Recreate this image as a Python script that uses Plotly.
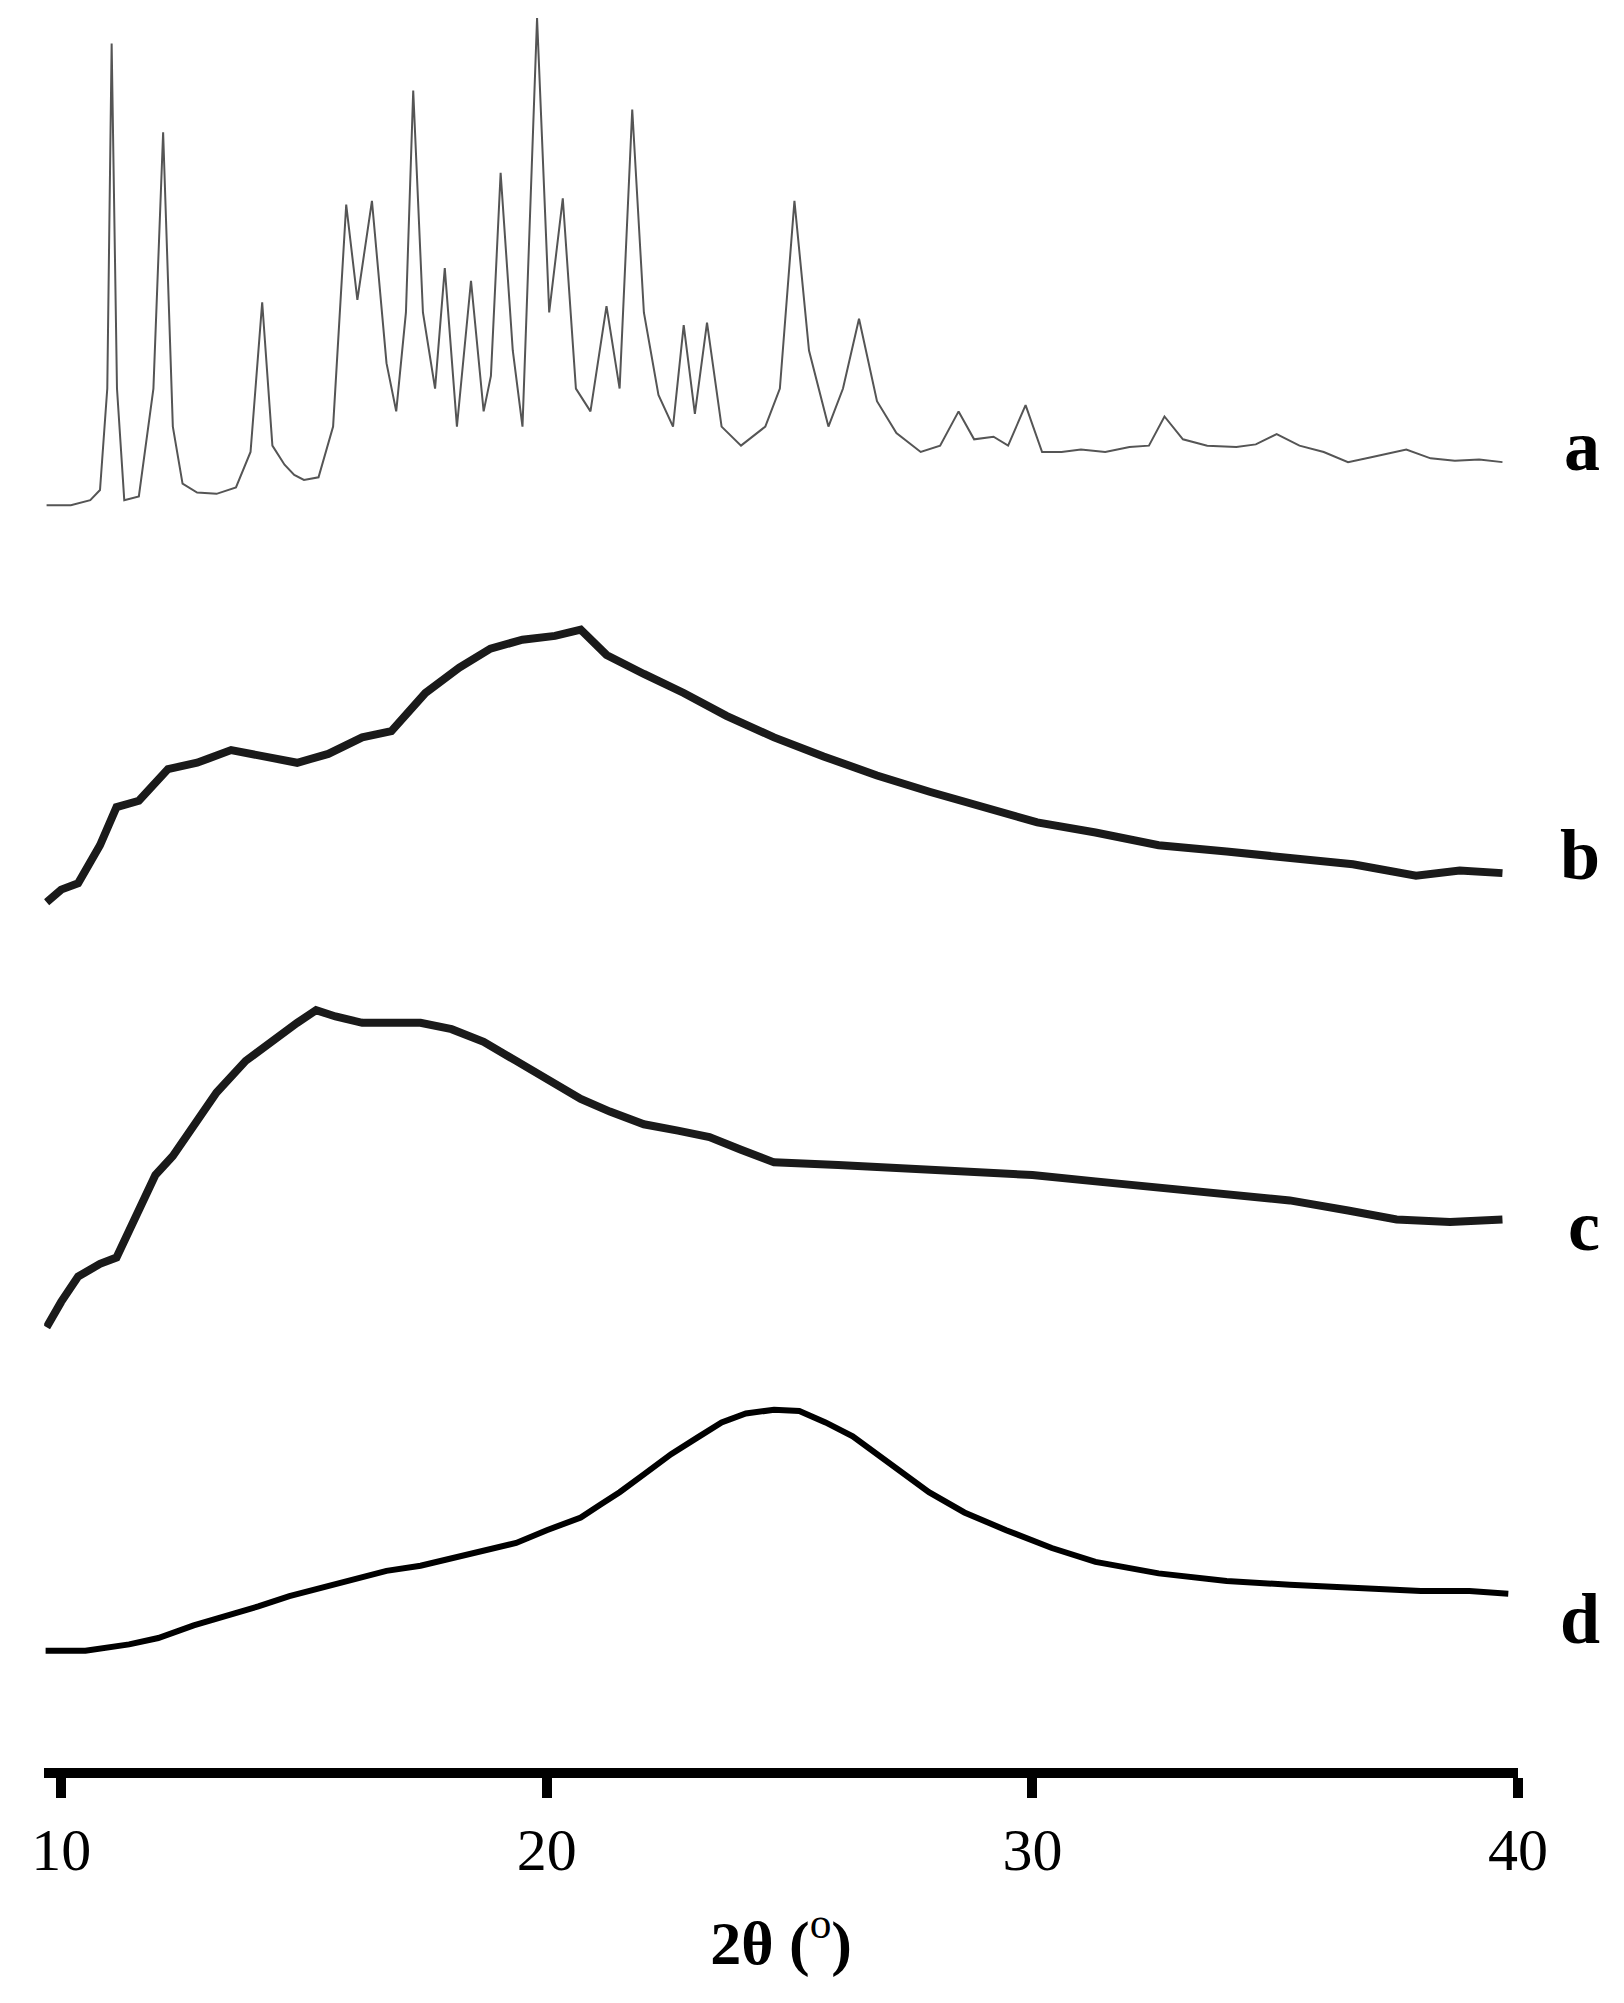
import plotly.graph_objects as go

# pattern a (crystalline)
a_x = [9.7,10.2,10.6,10.8,10.95,11.04,11.15,11.3,11.6,11.9,12.1,12.3,12.5,12.8,13.2,13.6,13.9,14.14,14.35,14.6,14.8,15.0,15.3,15.6,15.87,16.1,16.4,16.7,16.9,17.1,17.25,17.45,17.7,17.9,18.15,18.44,18.7,18.85,19.05,19.3,19.5,19.8,20.05,20.33,20.6,20.9,21.23,21.5,21.76,22.0,22.3,22.6,22.82,23.05,23.3,23.6,24.0,24.5,24.8,25.1,25.4,25.8,26.1,26.43,26.8,27.2,27.7,28.1,28.48,28.8,29.2,29.5,29.86,30.2,30.6,31.0,31.5,32.0,32.4,32.72,33.1,33.6,34.2,34.6,35.03,35.5,36.0,36.5,37.0,37.7,38.2,38.7,39.2,39.68]
a_y = [392,392,388,380,300,28,300,388,385,300,98,330,375,382,383,378,350,232,345,360,368,372,370,330,155,230,152,280,318,240,65,240,300,205,330,215,318,290,130,270,330,8,240,150,300,318,235,300,80,240,305,330,250,320,248,330,345,330,300,152,270,330,300,245,310,335,350,345,318,340,338,345,313,350,350,348,350,346,345,322,340,345,346,344,336,345,350,358,354,348,355,357,356,358]
# pattern b (amorphous)
b_x = [9.7,10.0,10.35,10.8,11.14,11.6,12.2,12.8,13.5,14.2,14.86,15.5,16.2,16.8,17.5,18.2,18.84,19.5,20.17,20.7,21.23,22.0,22.82,23.7,24.68,25.7,26.8,27.9,28.93,30.1,31.3,32.6,34.0,35.3,36.6,37.9,38.8,39.68]
b_y = [705,695,690,660,630,625,600,595,585,590,595,588,575,570,540,520,505,498,495,490,510,525,540,558,575,590,605,618,630,642,650,660,665,670,675,684,680,682]
# pattern c
c_x = [9.7,10.0,10.35,10.8,11.14,11.5,11.94,12.3,12.73,13.2,13.8,14.3,14.86,15.25,15.65,16.2,16.7,17.4,18.04,18.7,19.37,20.0,20.7,21.3,22.0,22.7,23.35,24.0,24.68,26.0,27.33,28.7,30.0,31.3,32.65,34.0,35.3,36.5,37.5,38.6,39.68]
c_y = [1040,1020,1000,990,985,955,920,905,880,855,830,815,800,790,795,800,800,800,805,815,830,845,860,870,880,885,890,900,910,912,915,918,920,925,930,936,940,948,955,957,955]
# pattern d
d_x = [9.68,10.5,11.4,12.0,12.73,13.4,14.06,14.7,15.4,16.0,16.7,17.4,18.04,18.7,19.37,20.0,20.7,21.1,21.5,22.0,22.56,23.1,23.6,24.1,24.68,25.2,25.74,26.3,26.8,27.3,27.87,28.6,29.46,30.4,31.3,32.6,34.0,35.3,36.6,38.0,39.0,39.8]
d_y = [1295,1295,1290,1285,1275,1268,1260,1252,1245,1238,1232,1228,1222,1216,1210,1200,1190,1180,1170,1156,1140,1127,1115,1108,1105,1106,1115,1126,1140,1155,1170,1186,1200,1214,1225,1234,1240,1243,1245,1248,1248,1250]

labels = ["a", "b", "c", "d"]
label_y = [345, 668, 960, 1270]
tick_vals = [10, 20, 30, 40]

W, H = 1280, 1579
px10, px40 = 32.5, 1212.0
px_per_deg = (px40 - px10) / 30.0
x0 = 9.65
dom_left = (px10 - (10 - x0) * px_per_deg) / W

fig = go.Figure()
fig.add_trace(go.Scatter(x=a_x, y=a_y, mode="lines", line=dict(color="#555555", width=2)))
fig.add_trace(go.Scatter(x=b_x, y=b_y, mode="lines", line=dict(color="#1a1a1a", width=8)))
fig.add_trace(go.Scatter(x=c_x, y=c_y, mode="lines", line=dict(color="#1a1a1a", width=8)))
fig.add_trace(go.Scatter(x=d_x, y=d_y, mode="lines", line=dict(color="#000000", width=6)))

for lab, ly in zip(labels, label_y):
    fig.add_annotation(x=1.0, xref="paper", xanchor="right", y=ly, yref="y", text="<b>%s</b>" % lab,
                       showarrow=False, font=dict(family="Liberation Serif", size=72, color="black"))

fig.update_layout(
    width=1624, height=2003, margin=dict(l=0, r=0, t=0, b=0),
    paper_bgcolor="white", plot_bgcolor="white", showlegend=False,
    yaxis=dict(range=[H, 0], visible=False, domain=[0, 1]),
    xaxis=dict(domain=[dom_left, px40 / W], range=[x0, 40], anchor="free",
               position=1 - 1765 / 2003, side="bottom", showline=True, linewidth=10,
               linecolor="black", ticks="outside", ticklen=20, tickwidth=10,
               tickcolor="black", tickvals=tick_vals, showgrid=False, zeroline=False,
               tickfont=dict(family="Liberation Serif", size=60, color="black"),
               title=dict(text="<b>2θ (</b><sup>o</sup><b>)</b>", standoff=38,
                          font=dict(family="Liberation Serif", size=62, color="black"))),
)
fig.write_html("out.html")
